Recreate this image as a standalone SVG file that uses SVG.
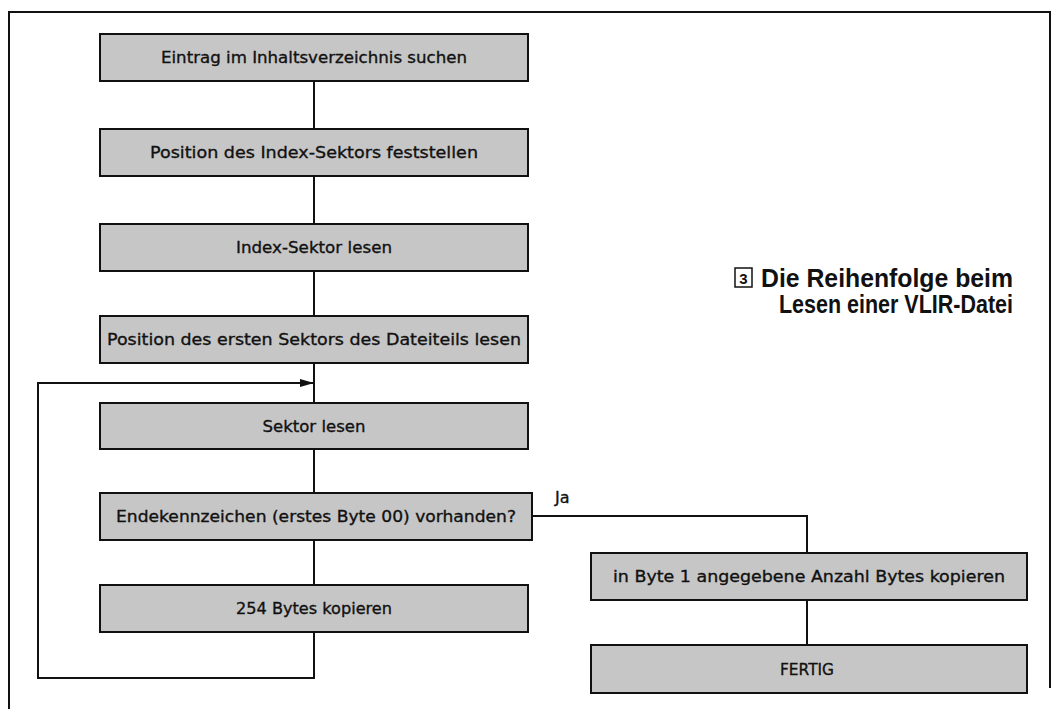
<svg xmlns="http://www.w3.org/2000/svg" width="1052" height="709" viewBox="0 0 1052 709">
  <style>
    .box { fill: #c6c6c6; stroke: #111; stroke-width: 2; }
    .lbl { font-family: "DejaVu Sans", "Liberation Sans", sans-serif; font-size: 16.5px; fill: #111; stroke: #111; stroke-width: 0.35; text-anchor: middle; }
    .line { fill: none; stroke: #111; stroke-width: 2; }
    .title { font-family: "Liberation Sans", Arial, sans-serif; font-weight: bold; font-size: 25px; fill: #111; text-anchor: end; }
  </style>
  <defs>
    <marker id="arrow" markerWidth="14" markerHeight="8" refX="14" refY="4" orient="auto" markerUnits="userSpaceOnUse">
      <path d="M0,0 L14,4 L0,8 Z" fill="#111"/>
    </marker>
  </defs>

  <rect width="1052" height="709" fill="#fff"/>

  <!-- frame -->
  <path class="line" d="M9,709 V12 H1050 V688"/>

  <!-- caption -->
  <g id="caption">
    <rect x="735" y="268" width="17" height="19" fill="none" stroke="#111" stroke-width="1.5"/>
    <text x="743.5" y="284" font-family="Liberation Sans, Arial, sans-serif" font-weight="bold" font-size="15" text-anchor="middle" fill="#111">3</text>
    <text class="title" x="1013" y="287" textLength="252" lengthAdjust="spacingAndGlyphs">Die Reihenfolge beim</text>
    <text class="title" x="1013" y="313" textLength="234" lengthAdjust="spacingAndGlyphs">Lesen einer VLIR-Datei</text>
  </g>

  <!-- connectors -->
  <g id="connectors">
    <path class="line" d="M314,81 V129"/>
    <path class="line" d="M314,176 V224"/>
    <path class="line" d="M314,271 V316"/>
    <path class="line" d="M314,363 V403"/>
    <path class="line" d="M314,449 V493"/>
    <path class="line" d="M314,540 V585"/>
    <path class="line" d="M314,632 V678 H38 V383 H314" marker-end="url(#arrow)"/>
    <path class="line" d="M532,516 H807 V553"/>
    <path class="line" d="M807,600 V645"/>
    <text x="555" y="503" font-family="DejaVu Sans, Liberation Sans, sans-serif" font-size="16" fill="#111" stroke="#111" stroke-width="0.35">Ja</text>
  </g>

  <g id="n1">
    <rect class="box" x="100" y="34" width="428" height="47"/>
    <text class="lbl" x="314" y="63" textLength="306" lengthAdjust="spacingAndGlyphs">Eintrag im Inhaltsverzeichnis suchen</text>
  </g>
  <g id="n2">
    <rect class="box" x="100" y="129" width="428" height="47"/>
    <text class="lbl" x="314" y="158" textLength="328" lengthAdjust="spacingAndGlyphs">Position des Index-Sektors feststellen</text>
  </g>
  <g id="n3">
    <rect class="box" x="100" y="224" width="428" height="47"/>
    <text class="lbl" x="314" y="253" textLength="156" lengthAdjust="spacingAndGlyphs">Index-Sektor lesen</text>
  </g>
  <g id="n4">
    <rect class="box" x="100" y="316" width="428" height="47"/>
    <text class="lbl" x="314" y="345" textLength="414" lengthAdjust="spacingAndGlyphs">Position des ersten Sektors des Dateiteils lesen</text>
  </g>
  <g id="n5">
    <rect class="box" x="100" y="403" width="428" height="46"/>
    <text class="lbl" x="314" y="432" textLength="103" lengthAdjust="spacingAndGlyphs">Sektor lesen</text>
  </g>
  <g id="n6">
    <rect class="box" x="100" y="493" width="432" height="47"/>
    <text class="lbl" x="316" y="522" textLength="400" lengthAdjust="spacingAndGlyphs">Endekennzeichen (erstes Byte 00) vorhanden?</text>
  </g>
  <g id="n7">
    <rect class="box" x="100" y="585" width="428" height="47"/>
    <text class="lbl" x="314" y="614" textLength="156" lengthAdjust="spacingAndGlyphs">254 Bytes kopieren</text>
  </g>
  <g id="n8">
    <rect class="box" x="591" y="553" width="436" height="47"/>
    <text class="lbl" x="809" y="582" textLength="392" lengthAdjust="spacingAndGlyphs">in Byte 1 angegebene Anzahl Bytes kopieren</text>
  </g>
  <g id="n9">
    <rect class="box" x="591" y="645" width="436" height="48"/>
    <text class="lbl" x="807" y="675" textLength="54" lengthAdjust="spacingAndGlyphs">FERTIG</text>
  </g>
</svg>
